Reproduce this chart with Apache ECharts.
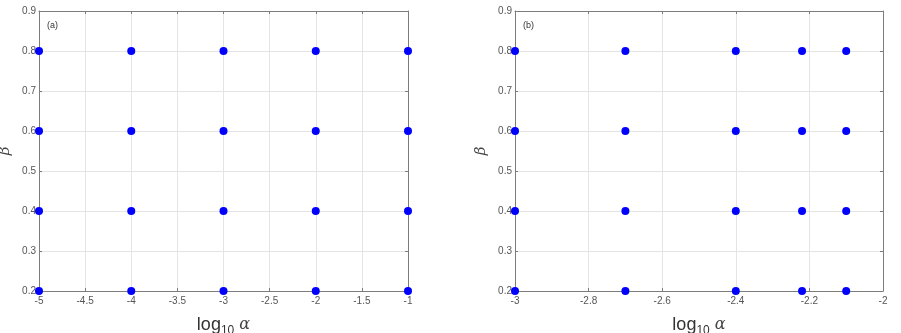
<!DOCTYPE html>
<html><head><meta charset="utf-8">
<script src="https://cdn.jsdelivr.net/npm/echarts@6/dist/echarts.min.js"></script>
<style>html,body{margin:0;padding:0;background:#fff}#c{width:901px;height:333px}</style>
</head><body><div id="c"></div>
<script>
var alphaA = [-5, -4, -3, -2, -1];
var alphaB = [-3, -2.7, -2.4, -2.22, -2.1];
var betas = [0.2, 0.4, 0.6, 0.8];
var panelLabels = ['(a)', '(b)'];

function cross(xs, ys) { var d = []; ys.forEach(function (y) { xs.forEach(function (x) { d.push([x, y]); }); }); return d; }

var tickFont = { fontFamily: 'Liberation Sans', fontSize: 10, color: '#555' };
var boxColor = '#7d7d7d';
var gridColor = '#e4e4e4';

var xName = '{l|log}{s|10}{a| α}';
var xNameStyle = { rich: {
  l: { fontFamily: 'Liberation Sans', fontSize: 18, color: '#333' },
  s: { fontFamily: 'Liberation Sans', fontSize: 12, color: '#333', padding: [12, 0, 0, 0] },
  a: { fontFamily: 'DejaVu Serif', fontStyle: 'italic', fontSize: 16, color: '#444' }
}};

function mainX(grid, min, max, interval) {
  return { type: 'value', gridIndex: grid, min: min, max: max, interval: interval, position: 'bottom',
    name: xName, nameLocation: 'middle', nameGap: 22, nameTextStyle: xNameStyle,
    axisLine: { show: true, onZero: false, lineStyle: { color: boxColor, width: 1 } },
    axisTick: { show: true, inside: true, length: 3, lineStyle: { color: boxColor } },
    axisLabel: Object.assign({ margin: 5 }, tickFont),
    splitLine: { show: true, lineStyle: { color: gridColor, width: 1 } } };
}
function topX(grid, min, max, interval) {
  return { type: 'value', gridIndex: grid, min: min, max: max, interval: interval, position: 'top',
    axisLine: { show: true, onZero: false, lineStyle: { color: boxColor, width: 1 } },
    axisTick: { show: true, inside: true, length: 3, lineStyle: { color: boxColor } },
    axisLabel: { show: false }, splitLine: { show: false } };
}
function mainY(grid) {
  return { type: 'value', gridIndex: grid, min: 0.2, max: 0.9, interval: 0.1, position: 'left',
    name: 'β', nameLocation: 'middle', nameGap: 26, nameRotate: 90,
    nameTextStyle: { fontFamily: 'DejaVu Serif', fontStyle: 'italic', fontSize: 15, color: '#444' },
    axisLine: { show: true, onZero: false, lineStyle: { color: boxColor, width: 1 } },
    axisTick: { show: true, inside: true, length: 3, lineStyle: { color: boxColor } },
    axisLabel: Object.assign({ margin: 3 }, tickFont),
    splitLine: { show: true, lineStyle: { color: gridColor, width: 1 } } };
}
function rightY(grid) {
  return { type: 'value', gridIndex: grid, min: 0.2, max: 0.9, interval: 0.1, position: 'right',
    axisLine: { show: true, onZero: false, lineStyle: { color: boxColor, width: 1 } },
    axisTick: { show: true, inside: true, length: 3, lineStyle: { color: boxColor } },
    axisLabel: { show: false }, splitLine: { show: false } };
}

var chart = echarts.init(document.getElementById('c'), null, { renderer: 'canvas' });
chart.setOption({
  animation: false,
  backgroundColor: '#fff',
  grid: [
    { left: 39, top: 11, width: 369, height: 280, containLabel: false, outerBoundsMode: 'none' },
    { left: 515, top: 11, width: 368, height: 280, containLabel: false, outerBoundsMode: 'none' }
  ],
  xAxis: [mainX(0, -5, -1, 0.5), mainX(1, -3, -2, 0.2), topX(0, -5, -1, 0.5), topX(1, -3, -2, 0.2)],
  yAxis: [mainY(0), mainY(1), rightY(0), rightY(1)],
  graphic: [
    { type: 'text', left: 47, top: 21, style: { text: panelLabels[0], fontFamily: 'Liberation Sans', fontSize: 9, fill: '#333' } },
    { type: 'text', left: 523, top: 21, style: { text: panelLabels[1], fontFamily: 'Liberation Sans', fontSize: 9, fill: '#333' } }
  ],
  series: [
    { type: 'scatter', xAxisIndex: 0, yAxisIndex: 0, data: cross(alphaA, betas), symbolSize: 8, clip: false, itemStyle: { color: '#0000ff', opacity: 1 }, z: 5 },
    { type: 'scatter', xAxisIndex: 1, yAxisIndex: 1, data: cross(alphaB, betas), symbolSize: 8, clip: false, itemStyle: { color: '#0000ff', opacity: 1 }, z: 5 }
  ]
});
</script></body></html>
